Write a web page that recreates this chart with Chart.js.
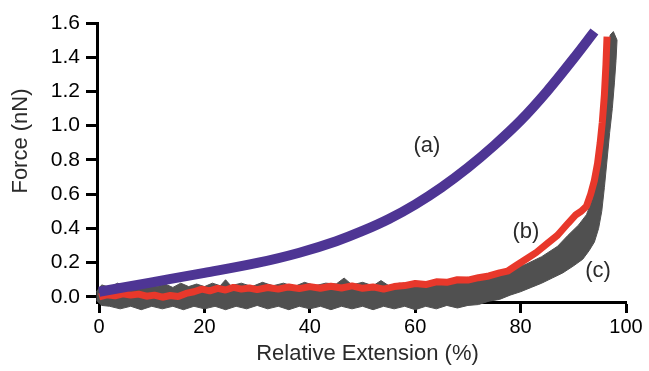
<!DOCTYPE html>
<html>
<head>
<title>Force vs relative extension</title>
<script src="https://cdn.jsdelivr.net/npm/chart.js@4.4.1/dist/chart.umd.min.js"></script>
<style>
  html, body { margin: 0; padding: 0; background: #fff; }
</style>
</head>
<body>
<canvas id="chart" width="649" height="371"></canvas>
<script>
// curve (a): smooth purple fit
const aExt   = [0, 10, 20, 30, 38, 45, 50, 55, 60, 65, 70, 75, 80, 85, 90, 94]
const aForce = [0.03, 0.085, 0.14, 0.198, 0.258, 0.325, 0.385, 0.455, 0.54, 0.64, 0.755, 0.885, 1.03, 1.2, 1.39, 1.55]

// curve (b): red trace
const bExt   = [0, 1.5, 3, 4.5, 6, 7.5, 9, 10.5, 12, 13.5, 15, 16.5, 18, 19.5, 21, 22.5, 24, 25.5, 27, 28.5, 30, 32, 34, 36, 38, 40, 42, 44, 46, 48,
                50, 52, 54, 56, 58, 60, 62, 64, 66, 68, 70, 72, 74, 76, 77.5, 79, 81, 83, 85, 87, 89, 90.5, 91.5, 92.5, 93.3, 94, 94.6, 95.1, 95.5, 95.9, 96.2, 96.4]
const bForce = [0.0, 0.012, 0.006, 0.018, 0.01, 0.016, 0.004, 0.01, -0.002, 0.008, 0.002, 0.02, 0.03, 0.045, 0.035, 0.05, 0.04, 0.055, 0.045, 0.052, 0.042, 0.055, 0.045, 0.058, 0.048, 0.06, 0.05, 0.062, 0.052, 0.064,
                0.05, 0.058, 0.045, 0.06, 0.066, 0.078, 0.072, 0.088, 0.085, 0.1, 0.098, 0.112, 0.122, 0.14, 0.15, 0.18, 0.22, 0.26, 0.31, 0.36, 0.43, 0.48, 0.5, 0.53, 0.6, 0.68, 0.78, 0.9, 1.02, 1.18, 1.36, 1.52]

// curve (c): grey noisy band, upper edge left->right then lower edge right->left
const cUpperExt   = [-0.5, 0.5, 2, 3.5, 5, 6.5, 8, 9.5, 11, 12.5, 14, 15.5, 17, 18.5, 20, 21.5, 23, 24, 25, 27, 29, 31, 33, 35, 37, 39, 41, 43, 45, 46.5, 48, 50, 52, 53.5, 55, 57,
                     60, 63, 66, 69, 72, 75, 78, 81, 84, 87, 89, 91, 92.5, 93.5, 94.5, 95.2, 95.8, 96.2, 96.6, 97, 97.6]
const cUpperForce = [0.03, 0.07, 0.055, 0.08, 0.06, 0.075, 0.055, 0.08, 0.06, 0.075, 0.055, 0.08, 0.06, 0.075, 0.06, 0.08, 0.065, 0.1, 0.065, 0.08, 0.06, 0.085, 0.065, 0.08, 0.06, 0.085, 0.065, 0.08, 0.075, 0.11, 0.07, 0.085, 0.065, 0.095, 0.065, 0.08,
                     0.065, 0.08, 0.085, 0.1, 0.105, 0.125, 0.155, 0.19, 0.235, 0.295, 0.36, 0.42, 0.48, 0.56, 0.68, 0.84, 1.05, 1.25, 1.45, 1.53, 1.55]
const cLowerExt   = [98.3, 98.1, 97.8, 97.4, 96.9, 96.4, 95.9, 95.4, 94.8, 94, 93, 91.8, 90, 88, 86, 84, 82, 80, 78, 76, 74, 72, 70, 68, 66, 64, 62, 60, 58, 56, 54, 52, 50, 48, 46, 44,
                     42, 40, 38, 36, 34, 32, 30, 28, 26, 24, 22, 20, 18, 16, 14, 12, 10, 8, 6, 4, 2, 0.5, -0.5]
const cLowerForce = [1.5, 1.38, 1.25, 1.1, 0.96, 0.8, 0.64, 0.5, 0.4, 0.32, 0.27, 0.22, 0.18, 0.14, 0.11, 0.08, 0.055, 0.03, 0.01, -0.015, -0.025, -0.045, -0.05, -0.065, -0.05, -0.07, -0.055, -0.075, -0.055, -0.07, -0.055, -0.075, -0.055, -0.07, -0.055, -0.075,
                     -0.055, -0.07, -0.055, -0.075, -0.055, -0.07, -0.05, -0.07, -0.055, -0.075, -0.055, -0.07, -0.055, -0.075, -0.055, -0.07, -0.055, -0.075, -0.055, -0.07, -0.055, -0.05, -0.02]

const xTicks = [0, 20, 40, 60, 80, 100]
const yTicks = [0, 0.2, 0.4, 0.6, 0.8, 1.0, 1.2, 1.4, 1.6]

const curveTags  = ['(a)', '(b)', '(c)']
const tagExt     = [62.2, 81, 94.7]
const tagForce   = [0.88, 0.38, 0.15]

const xTitle = 'Relative Extension (%)'
const yTitle = 'Force (nN)'

const toPoints = (xs, ys) => xs.map((v, i) => ({ x: v, y: ys[i] }))
const font = 'Arial, "Liberation Sans", sans-serif'

// the grey band dips below the x axis; let the filler paint there too
const looseArea = {
    id: 'looseArea',
    beforeDatasetsDraw(chart) {
        chart.$saved = { ...chart.chartArea }
        chart.chartArea.bottom += 20
        chart.chartArea.left -= 6
        chart.chartArea.right += 10
    },
    afterDatasetsDraw(chart) {
        Object.assign(chart.chartArea, chart.$saved)
    },
}

const textPlugin = {
    id: 'texts',
    afterDraw(chart) {
        const { ctx, chartArea, scales } = chart
        ctx.save()
        ctx.fillStyle = '#2a2a2a'
        ctx.font = '22px ' + font
        ctx.textAlign = 'center'
        ctx.textBaseline = 'middle'
        curveTags.forEach((t, i) => {
            ctx.fillText(t, scales.x.getPixelForValue(tagExt[i]), scales.y.getPixelForValue(tagForce[i]))
        })
        ctx.fillText(xTitle, (chartArea.left + chartArea.right) / 2 + 6, chartArea.bottom + 52)
        ctx.translate(21, chartArea.top + 118)
        ctx.rotate(-Math.PI / 2)
        ctx.fillText(yTitle, 0, 0)
        ctx.restore()
    },
}

const axisStyle = {
    z: 1,
    border: { display: true, color: '#000', width: 3 },
    grid: { display: true, drawOnChartArea: false, drawTicks: true, tickLength: 11, tickWidth: 3, tickColor: '#000' },
}

new Chart('chart', {
    type: 'scatter',
    data: {
        datasets: [
            {
                data: toPoints(aExt, aForce),
                showLine: true,
                borderColor: '#4e3594',
                borderWidth: 10,
                borderCapStyle: 'butt',
                cubicInterpolationMode: 'monotone',
                pointRadius: 0,
                clip: false,
            },
            {
                data: toPoints(bExt, bForce),
                showLine: true,
                borderColor: '#e8382b',
                borderWidth: 7,
                borderJoinStyle: 'bevel',
                tension: 0,
                pointRadius: 0,
                clip: false,
            },
            {
                data: toPoints(cUpperExt.concat(cLowerExt), cUpperForce.concat(cLowerForce)),
                showLine: true,
                borderColor: '#505050',
                backgroundColor: '#505050',
                borderWidth: 1,
                tension: 0,
                fill: 'shape',
                pointRadius: 0,
                clip: false,
            },
        ],
    },
    options: {
        responsive: false,
        animation: false,
        layout: { padding: { top: 23, right: 23, left: 0, bottom: 0 } },
        plugins: { legend: { display: false }, tooltip: { enabled: false } },
        scales: {
            x: {
                ...axisStyle,
                type: 'linear',
                min: -0.4,
                max: 100,
                afterBuildTicks: scale => { scale.ticks = xTicks.map(v => ({ value: v })) },
                afterFit: scale => { scale.height = 69 },
                ticks: { color: '#000', font: { family: font, size: 20 }, padding: 2 },
            },
            y: {
                ...axisStyle,
                min: -0.03,
                max: 1.6,
                afterBuildTicks: scale => { scale.ticks = yTicks.map(v => ({ value: v })) },
                afterFit: scale => { scale.width = 97 },
                ticks: { color: '#000', font: { family: font, size: 21 }, padding: 6, callback: v => v.toFixed(1) },
            },
        },
    },
    plugins: [looseArea, textPlugin],
})
</script>
</body>
</html>
